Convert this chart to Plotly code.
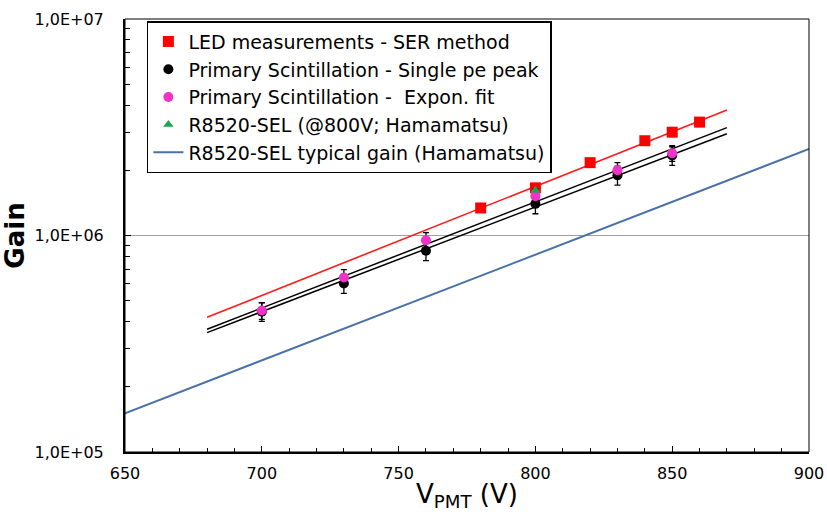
import plotly.graph_objects as go

# ---- data ----
led_v = [780, 800, 820, 840, 850, 860]
led_gain = [1.34e6, 1.66e6, 2.17e6, 2.74e6, 3.0e6, 3.34e6]

spe_v = [700, 730, 760, 800, 830, 850]
spe_gain = [4.45e5, 6.0e5, 8.5e5, 1.40e6, 1.90e6, 2.34e6]
spe_err = [4.4e4, 6.0e4, 8.5e4, 1.4e5, 1.9e5, 2.3e5]

exp_v = [700, 730, 760, 800, 830, 850]
exp_gain = [4.5e5, 6.4e5, 9.5e5, 1.52e6, 2.0e6, 2.40e6]
exp_err = [4.0e4, 5.5e4, 8.0e4, 1.2e5, 1.7e5, 2.0e5]

ham_v = [800]
ham_gain = [1.62e6]

led_fit_v = [680, 870]
led_fit_gain = [4.19e5, 3.8e6]
spe_fit1_v = [680, 870]
spe_fit1_gain = [3.69e5, 3.15e6]
spe_fit2_v = [680, 870]
spe_fit2_gain = [3.56e5, 2.95e6]

typ_v = [650, 900]
typ_gain = [1.51e5, 2.51e6]

ytick_vals = [1e5, 1e6, 1e7]
ytick_text = ["1,0E+05", "1,0E+06", "1,0E+07"]

FONT = "DejaVu Sans, Liberation Sans, Arial, sans-serif"

fig = go.Figure()

# fit lines (not in legend)
fig.add_trace(go.Scatter(x=led_fit_v, y=led_fit_gain, mode="lines",
                         line=dict(color="#ff1a1a", width=1.6), showlegend=False, hoverinfo="skip"))
fig.add_trace(go.Scatter(x=spe_fit1_v, y=spe_fit1_gain, mode="lines",
                         line=dict(color="black", width=1.5), showlegend=False, hoverinfo="skip"))
fig.add_trace(go.Scatter(x=spe_fit2_v, y=spe_fit2_gain, mode="lines",
                         line=dict(color="black", width=1.5), showlegend=False, hoverinfo="skip"))

# markers
fig.add_trace(go.Scatter(x=led_v, y=led_gain, mode="markers", name="LED measurements - SER method",
                         marker=dict(symbol="square", size=11, color="#ff0000")))
fig.add_trace(go.Scatter(x=spe_v, y=spe_gain, mode="markers", name="Primary Scintillation - Single pe peak",
                         marker=dict(symbol="circle", size=10, color="black"),
                         error_y=dict(type="data", array=spe_err, color="black", thickness=1.3, width=3)))
fig.add_trace(go.Scatter(x=exp_v, y=exp_gain, mode="markers", name="Primary Scintillation -  Expon. fit",
                         marker=dict(symbol="circle", size=10, color="#f032c8"),
                         error_y=dict(type="data", array=exp_err, color="black", thickness=1.3, width=3)))
fig.add_trace(go.Scatter(x=ham_v, y=ham_gain, mode="markers", name="R8520-SEL (@800V; Hamamatsu)",
                         marker=dict(symbol="triangle-up", size=9, color="#1aa64b")))
fig.add_trace(go.Scatter(x=typ_v, y=typ_gain, mode="lines", name="R8520-SEL typical gain (Hamamatsu)",
                         line=dict(color="#4a72a8", width=2)))

fig.update_layout(
    width=827, height=512,
    margin=dict(l=125, r=18, t=19, b=60, autoexpand=False),
    paper_bgcolor="white", plot_bgcolor="white",
    font=dict(family=FONT, color="black", size=16),
    legend=dict(x=0.032, y=0.995, xanchor="left", yanchor="top",
                bgcolor="white", bordercolor="black", borderwidth=1.5,
                font=dict(size=19, family=FONT), tracegroupgap=0,
                itemwidth=30),
    xaxis=dict(range=[650, 900], tickvals=[650, 700, 750, 800, 850, 900],
               ticks="inside", ticklen=6, tickcolor="black",
               minor=dict(dtick=10, ticks="inside", ticklen=4, tickcolor="black"),
               showline=True, linecolor="black", linewidth=2, showgrid=False, zeroline=False,
               automargin=True, ticklabelstandoff=6,
               tickfont=dict(size=16),
               title=dict(text="V<sub>PMT</sub> (V)", font=dict(size=26), standoff=12)),
    yaxis=dict(type="log", range=[5, 7], tickvals=ytick_vals, ticktext=ytick_text,
               ticks="inside", ticklen=6, tickcolor="black",
               minor=dict(dtick="D1", ticks="inside", ticklen=5, tickcolor="black", showgrid=False),
               showline=True, linecolor="black", linewidth=2,
               showgrid=True, gridcolor="#a0a0a0", gridwidth=1, zeroline=False,
               automargin=True, ticklabelstandoff=16,
               tickfont=dict(size=16),
               title=dict(text="<b>Gain</b>", font=dict(size=26), standoff=2)),
)

# thin top/right frame
fig.add_shape(type="rect", xref="paper", yref="paper", x0=0, y0=0, x1=1, y1=1,
              line=dict(color="black", width=1), layer="above")

fig.write_html("out.html")
